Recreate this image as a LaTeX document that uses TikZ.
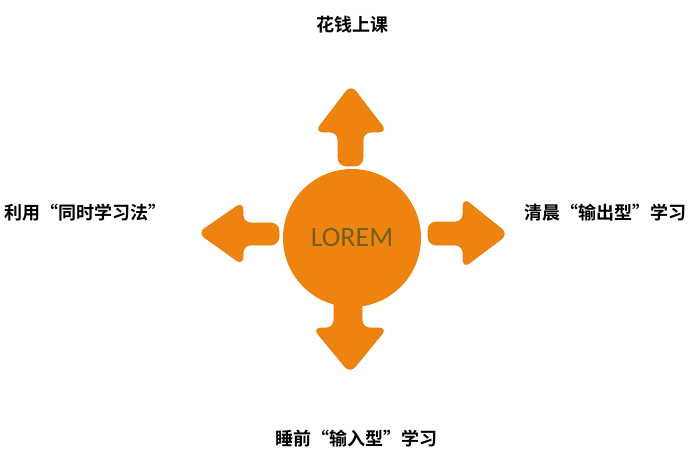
\documentclass[tikz,border=0pt]{standalone}
\usepackage{fontspec}
\setmainfont{Carlito}
\newfontfamily\cjk{Noto Sans CJK SC Bold}
\definecolor{lorange}{RGB}{238,131,16}
\definecolor{ledge}{RGB}{230,122,14}
\definecolor{lolive}{RGB}{112,98,28}
\tikzset{
    arrowshape/.style={fill=lorange, draw=ledge, line width=0.6pt, line join=round, rounded corners=8pt},
    label/.style={font=\cjk\fontsize{18}{21}\selectfont, text=black, inner sep=0pt}
}

\begin{document}
\begin{tikzpicture}[x=1pt, y=-1pt]
    \useasboundingbox (0,0) rectangle (700,470);
    % arrows
    \draw[arrowshape] (338,166)--(338,132)--(315,132)--(351,85)--(387,132)--(363,132)--(363,166)--cycle;
    \draw[arrowshape] (279,223)--(243,223)--(243,202)--(198,233)--(243,265)--(243,245)--(279,245)--cycle;
    \draw[arrowshape] (428,222)--(463,222)--(463,198)--(508,234)--(463,268)--(463,245)--(428,245)--cycle;
    \draw[arrowshape] (334,280)--(334,328)--(313,328)--(350,373)--(387,328)--(362,328)--(362,280)--cycle;
    % centre
    \node[circle, fill=lorange, minimum size=138pt, inner sep=0pt,
          text=lolive, font=\fontsize{28}{30}\selectfont](c)at(352,238){LOREM};
    % labels
    \node[label](up)at(352,25){花钱上课};
    \node[label, anchor=west](lt)at(4,213){利用“同时学习法”};
    \node[label, anchor=west](rt)at(524,213){清晨“输出型”学习};
    \node[label](dn)at(356,439){睡前“输入型”学习};
\end{tikzpicture}
\end{document}
